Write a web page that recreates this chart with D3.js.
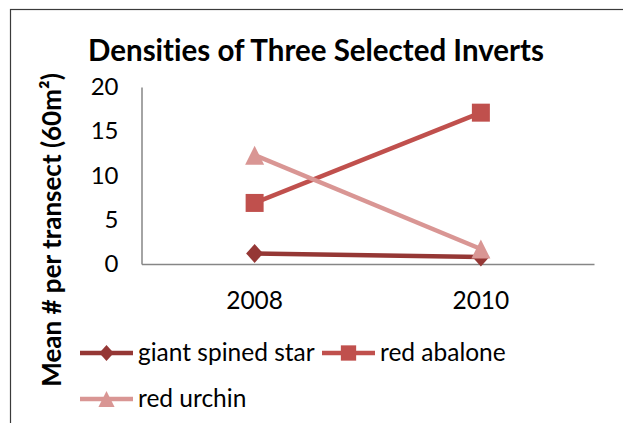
<!DOCTYPE html>
<html>
<head>
<meta charset="utf-8">
<script src="https://cdn.jsdelivr.net/npm/d3@7/dist/d3.min.js"></script>
<style>
  html, body { margin: 0; padding: 0; background: #fff; }
  svg { display: block; }
  text { font-family: Lato, "Open Sans", sans-serif; fill: #000; font-variant-ligatures: none; }
</style>
</head>
<body>
<svg id="chart" width="623" height="423"></svg>
<script>
const title = "Densities of Three Selected Inverts";
const yTitle = "Mean # per transect (60m\u00B2)";
const categories = ["2008", "2010"];
const yTicks = [0, 5, 10, 15, 20];
const seriesNames = ["giant spined star", "red abalone", "red urchin"];
const giantSpinedStar = [1.2, 0.8];
const redAbalone = [6.9, 17.1];
const redUrchin = [12.3, 1.7];
const seriesColors = ["#953735", "#C0504D", "#D99694"];
const seriesSymbols = ["diamond", "square", "triangle"];

const series = [
  { name: seriesNames[0], values: giantSpinedStar, color: seriesColors[0], symbol: seriesSymbols[0] },
  { name: seriesNames[1], values: redAbalone, color: seriesColors[1], symbol: seriesSymbols[1] },
  { name: seriesNames[2], values: redUrchin, color: seriesColors[2], symbol: seriesSymbols[2] }
];

const svg = d3.select("#chart");

// outer chart frame
svg.append("rect")
  .attr("x", 10.5).attr("y", 9.5)
  .attr("width", 640).attr("height", 440)
  .attr("fill", "none").attr("stroke", "#3a3a3a").attr("stroke-width", 1.2);

const plot = { left: 141.5, right: 594, top: 87, bottom: 264 };

const x = d3.scaleBand().domain(categories).range([plot.left, plot.right]);
const y = d3.scaleLinear().domain([0, 20]).range([plot.bottom, plot.top]);

// title
svg.append("text")
  .attr("x", 316).attr("y", 61)
  .attr("text-anchor", "middle")
  .style("font-weight", "bold").style("font-size", "29.5px")
  .text(title);

// y axis
const yAxis = d3.axisLeft(y).tickValues(yTicks).tickSize(0).tickPadding(23);
const gy = svg.append("g").attr("transform", `translate(${plot.left},0)`).call(yAxis);
gy.select(".domain").attr("stroke", "#868686").attr("stroke-width", 1.5);
gy.selectAll("text").style("font-size", "24px").attr("fill", "#000");

// x axis
const xAxis = d3.axisBottom(x).tickSize(0).tickPadding(0);
const gx = svg.append("g").attr("transform", `translate(0,${plot.bottom})`).call(xAxis);
gx.select(".domain").attr("stroke", "#868686").attr("stroke-width", 1.5);
gx.selectAll("text").style("font-size", "24.5px").attr("fill", "#000")
  .attr("y", 45).attr("dy", 0);
gy.attr("font-family", null);
gx.attr("font-family", null);

// y title
svg.append("text")
  .attr("transform", `translate(61,230) rotate(-90)`)
  .attr("text-anchor", "middle")
  .style("font-weight", "bold").style("font-size", "26px")
  .text(yTitle);

// custom marker shapes (half-width, half-height)
function shape(kind, hw, hh) {
  return {
    draw(ctx) {
      if (kind === "diamond") {
        ctx.moveTo(0, -hh); ctx.lineTo(hw, 0); ctx.lineTo(0, hh); ctx.lineTo(-hw, 0); ctx.closePath();
      } else if (kind === "square") {
        ctx.rect(-hw, -hh, 2 * hw, 2 * hh);
      } else {
        ctx.moveTo(0, -hh); ctx.lineTo(hw, hh); ctx.lineTo(-hw, hh); ctx.closePath();
      }
    }
  };
}
const markerDims = { diamond: [8.5, 9.5], square: [9, 9], triangle: [9.5, 9.5] };

const line = d3.line()
  .x((d, i) => x(categories[i]) + x.bandwidth() / 2)
  .y(d => y(d));

const gs = svg.append("g");
series.forEach(s => {
  gs.append("path")
    .attr("d", line(s.values))
    .attr("fill", "none")
    .attr("stroke", s.color)
    .attr("stroke-width", 4.5);
});
series.forEach(s => {
  const [hw, hh] = markerDims[s.symbol];
  gs.selectAll(null).data(s.values).enter().append("path")
    .attr("transform", (d, i) => `translate(${x(categories[i]) + x.bandwidth() / 2},${y(d)})`)
    .attr("d", d3.symbol().type(shape(s.symbol, hw, hh))())
    .attr("fill", s.color);
});

// legend
const legendPos = [
  { lx: 80, ly: 353 },
  { lx: 322, ly: 353 },
  { lx: 80, ly: 399 }
];
const lg = svg.append("g");
series.forEach((s, i) => {
  const p = legendPos[i];
  const [hw, hh] = markerDims[s.symbol];
  lg.append("line")
    .attr("x1", p.lx).attr("x2", p.lx + 53)
    .attr("y1", p.ly).attr("y2", p.ly)
    .attr("stroke", s.color).attr("stroke-width", 4.5);
  lg.append("path")
    .attr("transform", `translate(${p.lx + 26.5},${p.ly})`)
    .attr("d", d3.symbol().type(shape(s.symbol, hw * 0.85, hh * 0.85))())
    .attr("fill", s.color);
  lg.append("text")
    .attr("x", p.lx + 58).attr("y", p.ly)
    .attr("dy", "0.33em")
    .style("font-size", "24.5px")
    .text(s.name);
});
</script>
</body>
</html>
